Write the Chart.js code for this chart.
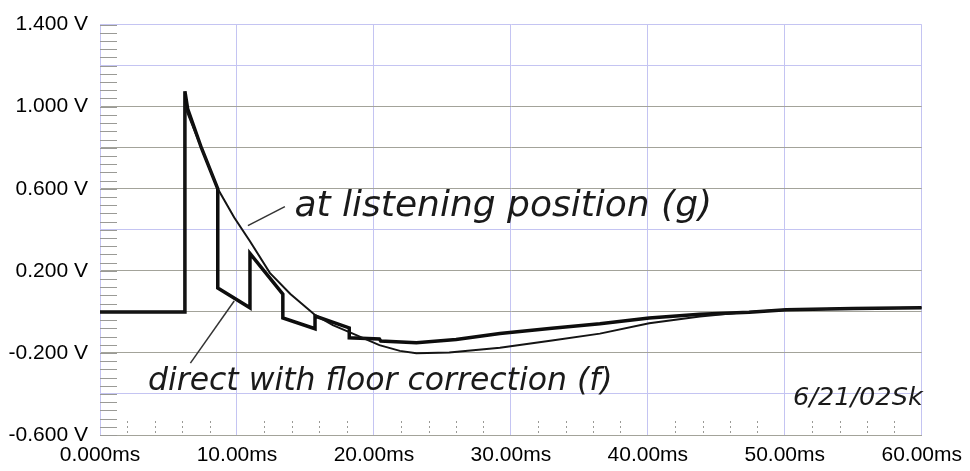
<!DOCTYPE html>
<html>
<head>
<meta charset="utf-8">
<script src="https://cdn.jsdelivr.net/npm/chart.js@4.4.1/dist/chart.umd.min.js"></script>
<style>
  body { margin: 0; background: #fff; }
  canvas { display: block; }
</style>
</head>
<body>
<canvas id="scope-chart" width="970" height="471"></canvas>
<script>
// values (time in ms, level in V)
let listeningTime = [0, 6.2, 6.2, 7.4, 8.6, 9.8, 10.95, 12.4, 13.9, 15.7, 17, 18.25, 20.4, 21.9, 23.1, 25.5, 29.2, 33, 36.5, 40.1, 43.8, 47, 50.1, 55, 60];
let listeningVolts = [0, 0, 1.0, 0.80, 0.60, 0.46, 0.344, 0.19, 0.087, -0.015, -0.065, -0.10, -0.162, -0.19, -0.202, -0.198, -0.175, -0.14, -0.106, -0.055, -0.022, -0.002, 0.01, 0.017, 0.02];

let directTime = [0, 6.2, 6.2, 6.4, 7.4, 8.6, 8.6, 10.95, 10.95, 13.35, 13.35, 15.7, 15.7, 18.2, 18.2, 20.4, 20.5, 23.1, 26, 29.2, 33, 36.5, 40.1, 43.8, 47.4, 50.1, 55, 60];
let directVolts = [0, 0, 1.075, 0.99, 0.80, 0.60, 0.116, 0.02, 0.285, 0.087, -0.03, -0.082, -0.02, -0.078, -0.126, -0.132, -0.142, -0.15, -0.135, -0.105, -0.08, -0.058, -0.03, -0.012, -0.002, 0.01, 0.016, 0.02];

let xTickValues = [0, 10, 20, 30, 40, 50, 60];
let xTickLabels = ["0.000ms", "10.00ms", "20.00ms", "30.00ms", "40.00ms", "50.00ms", "60.00ms"];
let yTickValues = [-0.6, -0.4, -0.2, 0, 0.2, 0.4, 0.6, 0.8, 1.0, 1.2, 1.4];
let yTickLabels = ["-0.600 V", "", "-0.200 V", "", "0.200 V", "", "0.600 V", "", "1.000 V", "", "1.400 V"];

let notes = [
  { text: "at listening position (g)", t: 14.2, v: 0.465, width: 418 },
  { text: "direct with floor correction (f)", t: 3.5, v: -0.382, width: 465 },
  { text: "6/21/02Sk", t: 50.6, v: -0.455, width: 130 }
];
let leaders = [
  { t1: 10.8, v1: 0.42, t2: 13.5, v2: 0.513 },
  { t1: 9.8, v1: 0.053, t2: 6.6, v2: -0.25 }
];

function toPoints(xs, ys) {
  return xs.map((x, i) => ({ x: x, y: ys[i] }));
}

// grid colours: scan mixes grey and pale blue lines
let blueLines = [1.4, 1.2, 0.4, -0.4];

// minor tick marks + handwritten notes
const scribbles = {
  id: 'scribbles',
  beforeDatasetsDraw(chart) {
    const ctx = chart.ctx;
    const xs = chart.scales.x, ys = chart.scales.y;
    const area = chart.chartArea;
    ctx.save();
    ctx.lineWidth = 1;
    ctx.strokeStyle = '#9a9a96';
    for (let k = 0; k <= 50; k++) {
      const py = Math.round(ys.getPixelForValue(-0.6 + k * 0.04)) + 0.5;
      ctx.beginPath();
      ctx.moveTo(area.left, py);
      ctx.lineTo(area.left + 17, py);
      ctx.stroke();
    }
    ctx.setLineDash([2, 3]);
    for (let k = 1; k < 30; k++) {
      if (k % 5 === 0) continue;
      const px = Math.round(xs.getPixelForValue(k * 2)) + 0.5;
      ctx.beginPath();
      ctx.moveTo(px, area.bottom - 14);
      ctx.lineTo(px, area.bottom);
      ctx.stroke();
    }
    ctx.restore();
  },
  afterDatasetsDraw(chart) {
    const ctx = chart.ctx;
    const xs = chart.scales.x, ys = chart.scales.y;
    ctx.save();
    ctx.strokeStyle = '#333';
    ctx.lineWidth = 1.5;
    leaders.forEach(l => {
      ctx.beginPath();
      ctx.moveTo(xs.getPixelForValue(l.t1), ys.getPixelForValue(l.v1));
      ctx.lineTo(xs.getPixelForValue(l.t2), ys.getPixelForValue(l.v2));
      ctx.stroke();
    });
    ctx.fillStyle = '#1a1a1a';
    ctx.textBaseline = 'alphabetic';
    notes.forEach(n => {
      ctx.font = "italic 30px 'DejaVu Sans'";
      const w = ctx.measureText(n.text).width;
      const size = 30 * n.width / w;
      ctx.font = "italic " + size.toFixed(1) + "px 'DejaVu Sans'";
      ctx.fillText(n.text, xs.getPixelForValue(n.t), ys.getPixelForValue(n.v));
    });
    ctx.restore();
  }
};

new Chart(document.getElementById("scope-chart"), {
  type: 'line',
  data: {
    datasets: [{
      label: "at listening position (g)",
      data: toPoints(listeningTime, listeningVolts),
      borderColor: '#141414',
      borderWidth: 2,
      pointRadius: 0,
      tension: 0,
      fill: false
    }, {
      label: "direct with floor correction (f)",
      data: toPoints(directTime, directVolts),
      borderColor: '#0d0d0d',
      borderWidth: 3.5,
      pointRadius: 0,
      tension: 0,
      fill: false
    }]
  },
  options: {
    responsive: false,
    animation: false,
    layout: { padding: { top: 22, right: 48, left: 0, bottom: 0 } },
    plugins: {
      legend: { display: false },
      tooltip: { enabled: false }
    },
    scales: {
      x: {
        type: 'linear',
        min: 0,
        max: 60,
        afterBuildTicks: scale => { scale.ticks = xTickValues.map(v => ({ value: v })); },
        afterFit: scale => { scale.height = 36; },
        ticks: {
          padding: 8,
          color: '#000',
          font: { family: 'Liberation Sans', size: 21 },
          maxRotation: 0,
          callback: (value, i) => xTickLabels[i]
        },
        grid: { color: '#c4c4f2', drawTicks: false, lineWidth: 1 },
        border: { color: '#a3a39a', width: 1 }
      },
      y: {
        min: -0.6,
        max: 1.4,
        afterBuildTicks: scale => { scale.ticks = yTickValues.map(v => ({ value: v })); },
        afterFit: scale => { scale.width = 100; },
        ticks: {
          padding: 12,
          color: '#000',
          font: { family: 'Liberation Sans', size: 21 },
          callback: (value, i) => yTickLabels[i]
        },
        grid: {
          drawTicks: false,
          lineWidth: 1,
          color: c => blueLines.some(b => Math.abs(b - c.tick.value) < 1e-6) ? '#c4c4f2' : '#a3a39a'
        },
        border: { color: '#c4c4f2', width: 1 }
      }
    }
  },
  plugins: [scribbles]
});
</script>
</body>
</html>
